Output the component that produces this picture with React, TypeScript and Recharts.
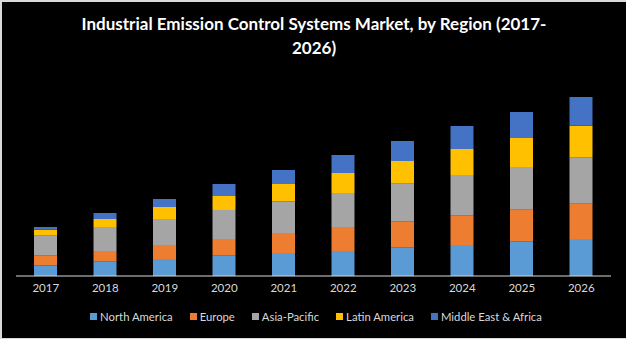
import React from "react";
import { BarChart, Bar, XAxis, YAxis, Legend } from "recharts";

const years = ["2017", "2018", "2019", "2020", "2021", "2022", "2023", "2024", "2025", "2026"];
const northAmerica = [10.7, 14.3, 17, 20.3, 23, 25, 28.3, 31, 34.3, 37];
const europe = [9.6, 10.7, 14, 16.7, 20, 24, 26, 29.3, 32, 35.3];
const asiaPacific = [20, 24, 26, 29, 31.7, 34, 38, 40.7, 42.7, 46];
const latinAmerica = [6, 8, 12, 14, 17.3, 20, 22.7, 26, 29, 32];
const middleEastAfrica = [2.7, 6, 8, 12, 14, 18, 20, 23, 26, 28.7];

const seriesNames = ["North America", "Europe", "Asia-Pacific", "Latin America", "Middle East & Africa"];
const seriesKeys = ["na", "eu", "ap", "la", "mea"];
const seriesColors = ["#5B9BD5", "#ED7D31", "#A5A5A5", "#FFC000", "#4472C4"];

const data = years.map((y, i) => ({
  year: y,
  na: northAmerica[i],
  eu: europe[i],
  ap: asiaPacific[i],
  la: latinAmerica[i],
  mea: middleEastAfrica[i],
}));

const FONT = "Lato, 'Open Sans', sans-serif";

const LegendContent = () => (
  <div style={{ display: "flex", justifyContent: "center", gap: 17, fontFamily: FONT, fontSize: 11.3, color: "#d9d9d9", paddingLeft: 4 }}>
    {seriesNames.map((n, i) => (
      <div key={n} style={{ display: "flex", alignItems: "center" }}>
        <span style={{ display: "inline-block", width: 7, height: 7, background: seriesColors[i], marginRight: 3 }} />
        <span>{n}</span>
      </div>
    ))}
  </div>
);

export default function App() {
  return (
    <div style={{ position: "absolute", left: 0, top: 0, width: 628, height: 342, background: "#ffffff" }}>
      <div style={{ position: "absolute", left: 0, top: 0, width: 626, height: 339, background: "#d9d9d9" }} />
      <div style={{ position: "absolute", left: 2, top: 2, width: 624, height: 336, background: "#000000" }} />
      <div
        style={{
          position: "absolute",
          left: 0,
          top: 12,
          width: 628,
          textAlign: "center",
          color: "#ffffff",
          fontFamily: FONT,
          fontWeight: 700,
          fontSize: 17,
          lineHeight: "24px",
        }}
      >
        Industrial Emission Control Systems Market, by Region (2017-
        <br />
        2026)
      </div>
      <div style={{ position: "absolute", left: 0, top: 0 }}>
        <BarChart width={628} height={342} data={data} margin={{ top: 76, right: 17, bottom: 36, left: 16 }}>
          <XAxis
            dataKey="year"
            height={30}
            tickLine={false}
            axisLine={{ stroke: "#d9d9d9", strokeWidth: 1 }}
            tick={{ fill: "#d9d9d9", fontSize: 11.5, fontFamily: FONT }}
            interval={0}
          />
          <YAxis hide domain={[0, 200]} />
          {seriesKeys.map((k, i) => (
            <Bar key={k} dataKey={k} name={seriesNames[i]} stackId="s" fill={seriesColors[i]} barSize={23} isAnimationActive={false} />
          ))}
          <Legend
            layout="horizontal"
            verticalAlign="middle"
            align="center"
            content={<LegendContent />}
            wrapperStyle={{ top: 310, left: 0, width: 628 }}
          />
        </BarChart>
      </div>
    </div>
  );
}
